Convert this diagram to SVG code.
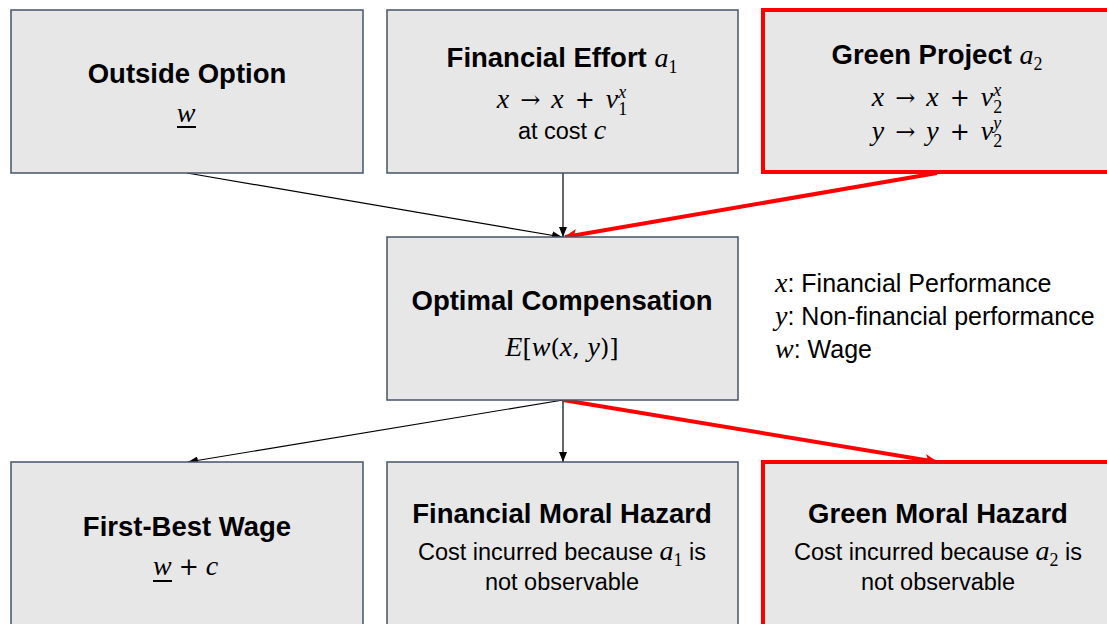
<svg xmlns="http://www.w3.org/2000/svg" width="1107" height="624" viewBox="0 0 1107 624">
<style>
.box{fill:#e7e7e7;stroke:#44546a;stroke-width:1.5}
.rbox{fill:#e7e7e7;stroke:#ff0000;stroke-width:4}
.t{font-family:"Liberation Sans",Arial,sans-serif;font-weight:bold;font-size:27.5px;fill:#000;text-anchor:middle}
.s{font-family:"Liberation Sans",Arial,sans-serif;font-size:23.5px;fill:#000}
.lg{font-family:"Liberation Sans",Arial,sans-serif;font-size:25px;fill:#000}
.m{font-family:"Liberation Serif","DejaVu Serif",serif;font-style:italic;font-size:28px;fill:#000;font-weight:normal}
.eq{word-spacing:4px}
.mu{font-family:"DejaVu Serif",serif;font-style:normal;font-size:24px}
.sb{font-family:"Liberation Serif",serif;font-style:normal;font-size:18px}
.sbi{font-family:"Liberation Serif",serif;font-style:italic;font-size:18px}
.k{stroke:#000;stroke-width:1.2;fill:none}
.r{stroke:#ff0000;stroke-width:4;fill:none}
</style>
<defs>
<marker id="ak" markerWidth="10" markerHeight="8" refX="10" refY="4" orient="auto" markerUnits="userSpaceOnUse"><path d="M0,0 L10,4 L0,8 Z" fill="#000"/></marker>
<marker id="ar" markerWidth="14" markerHeight="12" refX="12" refY="6" orient="auto" markerUnits="userSpaceOnUse"><path d="M0,0 L13,6 L0,12 L3,6 Z" fill="#ff0000"/></marker>
</defs>

<g id="connectors">
<line class="k" x1="187" y1="173" x2="562" y2="237" marker-end="url(#ak)"/>
<line class="k" x1="563" y1="173" x2="563" y2="237" marker-end="url(#ak)"/>
<line class="r" x1="937" y1="173" x2="565" y2="237" marker-end="url(#ar)"/>
<line class="k" x1="563" y1="400" x2="188" y2="462" marker-end="url(#ak)"/>
<line class="k" x1="563" y1="400" x2="563" y2="462" marker-end="url(#ak)"/>
<line class="r" x1="563" y1="400" x2="937" y2="462" marker-end="url(#ar)"/>
</g>

<g id="outside-option">
<rect class="box" x="11" y="10" width="352" height="163"/>
<text class="t" x="187" y="83">Outside Option</text>
<text class="m" x="186" y="122" text-anchor="middle">w</text>
<line x1="177" y1="127" x2="196" y2="127" stroke="#000" stroke-width="2"/>
</g>

<g id="financial-effort">
<rect class="box" x="387" y="10" width="351" height="163"/>
<text class="t" x="562" y="67">Financial Effort <tspan class="m">a</tspan><tspan class="sb" font-weight="normal" dy="6">1</tspan></text>
<text class="m eq" x="562" y="108" text-anchor="middle">x <tspan class="mu">→</tspan> x <tspan class="mu">+</tspan> ν<tspan class="sb" dy="7">1</tspan><tspan class="sbi" dx="-9" dy="-17">x</tspan></text>
<text class="s" x="562" y="139" text-anchor="middle">at cost <tspan class="m" font-size="26">c</tspan></text>
</g>

<g id="green-project">
<rect class="rbox" x="763" y="10" width="350" height="162"/>
<text class="t" x="937" y="64">Green Project <tspan class="m">a</tspan><tspan class="sb" font-weight="normal" dy="6">2</tspan></text>
<text class="m eq" x="937" y="106" text-anchor="middle">x <tspan class="mu">→</tspan> x <tspan class="mu">+</tspan> ν<tspan class="sb" dy="7">2</tspan><tspan class="sbi" dx="-9" dy="-17">x</tspan></text>
<text class="m eq" x="937" y="140" text-anchor="middle">y <tspan class="mu">→</tspan> y <tspan class="mu">+</tspan> ν<tspan class="sb" dy="7">2</tspan><tspan class="sbi" dx="-9" dy="-18">y</tspan></text>
</g>

<g id="optimal-compensation">
<rect class="box" x="387" y="237" width="351" height="163"/>
<text class="t" x="562" y="310">Optimal Compensation</text>
<text class="m" x="562" y="356" text-anchor="middle">E<tspan class="mu" font-size="26">[</tspan>w<tspan class="mu" font-size="26">(</tspan>x<tspan class="mu" font-size="26">, </tspan>y<tspan class="mu" font-size="26">)]</tspan></text>
</g>

<g id="legend">
<text class="lg" x="775" y="292"><tspan class="m" font-size="27">x</tspan>: Financial Performance</text>
<text class="lg" x="775" y="325"><tspan class="m" font-size="27">y</tspan>: Non-financial performance</text>
<text class="lg" x="775" y="358"><tspan class="m" font-size="27">w</tspan>: Wage</text>
</g>

<g id="first-best-wage">
<rect class="box" x="11" y="462" width="352" height="170"/>
<text class="t" x="187" y="536">First-Best Wage</text>
<text class="m" x="153" y="575">w <tspan class="mu">+</tspan> c</text>
<line x1="153" y1="581" x2="172" y2="581" stroke="#000" stroke-width="2"/>
</g>

<g id="financial-moral-hazard">
<rect class="box" x="387" y="462" width="351" height="170"/>
<text class="t" x="562" y="523">Financial Moral Hazard</text>
<text class="s" x="562" y="560" text-anchor="middle">Cost incurred because <tspan class="m" font-size="26">a</tspan><tspan class="sb" dy="6">1</tspan><tspan dy="-6"> is</tspan></text>
<text class="s" x="562" y="590" text-anchor="middle">not observable</text>
</g>

<g id="green-moral-hazard">
<rect class="rbox" x="763" y="462" width="350" height="170"/>
<text class="t" x="938" y="523">Green Moral Hazard</text>
<text class="s" x="938" y="560" text-anchor="middle">Cost incurred because <tspan class="m" font-size="26">a</tspan><tspan class="sb" dy="6">2</tspan><tspan dy="-6"> is</tspan></text>
<text class="s" x="938" y="590" text-anchor="middle">not observable</text>
</g>
</svg>
